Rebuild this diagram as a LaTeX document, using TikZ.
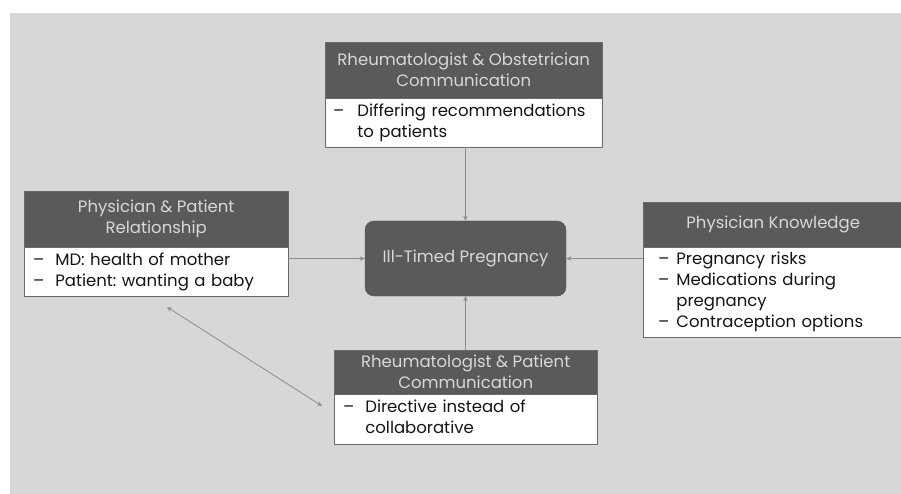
\documentclass[tikz,border=0pt]{standalone}
\usepackage{fontspec}
\setmainfont{Poppins}
\usetikzlibrary{arrows.meta}
\frenchspacing
\definecolor{bgc}{HTML}{D7D7D7}
\definecolor{hdrc}{HTML}{5A5A5A}
\definecolor{hdrtxt}{HTML}{D8D8D8}
\definecolor{edgec}{HTML}{8C8C8C}
\definecolor{framec}{HTML}{6A6A6A}
\definecolor{bodytxt}{HTML}{141414}
\tikzset{
  hdrbox/.style={draw=framec, fill=hdrc, text=hdrtxt, anchor=north west, align=center,
    inner sep=0pt, font=\fontsize{16.5}{21}\selectfont},
  bodybox/.style={draw=framec, fill=white, text=bodytxt, anchor=north west, align=left,
    inner xsep=0pt, inner ysep=0pt, font=\fontsize{16.5}{21}\selectfont},
  ctrbox/.style={draw=hdrc!90!black, fill=hdrc, text=hdrtxt, rounded corners=9pt,
    inner sep=0pt, font=\fontsize{16.5}{21}\selectfont},
  conn/.style={draw=edgec, line width=1pt, -{Stealth[length=5pt,width=4.5pt]}},
  dconn/.style={draw=edgec, line width=0.8pt, {Stealth[length=5pt,width=4.5pt]}-{Stealth[length=5pt,width=4.5pt]}}
}
\newcommand\bl[2]{\noindent\hspace*{#1pt}\begin{tabular}{@{}l@{\hspace{#2pt}}l@{}}}
\begin{document}
\begin{tikzpicture}[x=1pt,y=-1pt]
\useasboundingbox (0,0) rectangle (901,494);
\fill[white] (0,0) rectangle (901,494);
\fill[bgc] (10,13) rectangle (901,494);

% top box
\node[hdrbox, minimum width=277pt, minimum height=56pt] (tophdr) at (325,42)
  {Rheumatologist \& Obstetrician\\Communication};
\node[bodybox, text width=277pt, minimum height=49pt] (topbody) at (325,98)
  {\bl{8}{13}– & Differing recommendations\\ & to patients\end{tabular}};

% left box
\node[hdrbox, minimum width=264pt, minimum height=56pt] (lefthdr) at (24,191)
  {Physician \& Patient\\Relationship};
\node[bodybox, text width=264pt, minimum height=49pt] (leftbody) at (24,247)
  {\bl{9}{11}– & MD: health of mother\\ – & Patient: wanting a baby\end{tabular}};

% right box
\node[hdrbox, minimum width=260pt, minimum height=45pt] (righthdr) at (643,202)
  {Physician Knowledge};
\node[bodybox, text width=260pt, minimum height=90pt] (rightbody) at (643,247)
  {\bl{15}{7}– & Pregnancy risks\\ – & Medications during\\ & pregnancy\\ – & Contraception options\end{tabular}};

% bottom box
\node[hdrbox, minimum width=263pt, minimum height=44pt] (bothdr) at (334,350)
  {Rheumatologist \& Patient\\Communication};
\node[bodybox, text width=263pt, minimum height=50pt] (botbody) at (334,394)
  {\bl{9}{11}– & Directive instead of\\ & collaborative\end{tabular}};

% center
\node[ctrbox, minimum width=201pt, minimum height=75pt] (ctr) at (465.5,258.5)
  {Ill-Timed Pregnancy};

% connectors
\draw[conn] (topbody.south -| ctr.north) -- (ctr.north);
\draw[conn] (bothdr.north -| ctr.south) -- (ctr.south);
\draw[conn] (leftbody.east |- ctr.west) -- (ctr.west);
\draw[conn] (rightbody.west |- ctr.east) -- (ctr.east);
\coordinate (dA) at (167,307);
\coordinate (dB) at (322,406);
\draw[dconn] (dA) -- (dB);
\end{tikzpicture}
\end{document}
